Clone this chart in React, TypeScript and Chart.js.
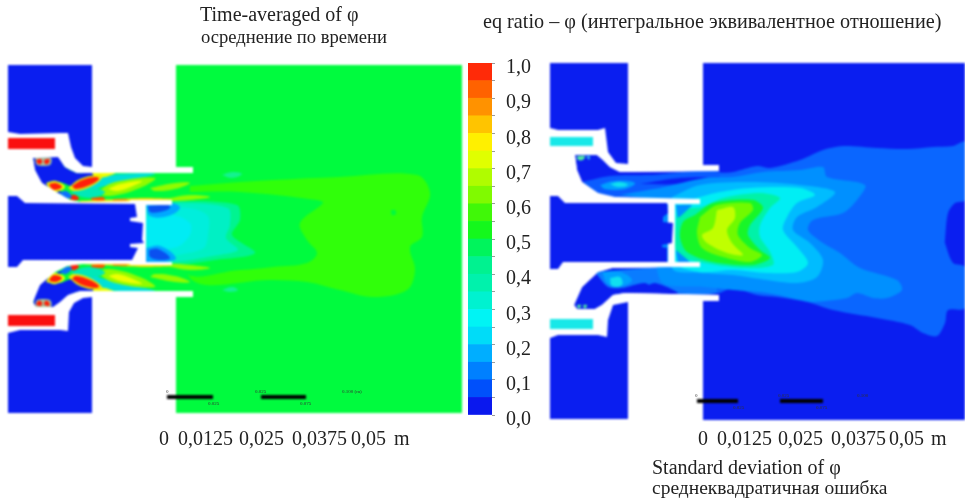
import React, { useEffect, useRef } from "react";
import { Chart, registerables } from "chart.js";

Chart.register(...registerables);

// ---------- colour scale ----------
const phiBandWidth = 0.05;
const phiBandColors = ["#0a18ee", "#0050fb", "#0080ff", "#00aeff", "#00dcf8", "#00f4f4", "#00f2d0", "#00f2ac", "#00f290", "#00f45c", "#14f81c", "#40f808", "#80fa00", "#b0fc00", "#e0ff00", "#fff000", "#ffc400", "#ff9200", "#ff6200", "#ff2a08"];
const phiTickStep = 0.05;

// ---------- left field (outline values in figure units) ----------
const leftBase = [176,65, 462,65, 462,413, 176,413, 176,297, 193,297, 193,291, 97,291, 80,291, 68,295, 60,302, 53,307, 36,307, 33,302, 40,285, 55,272, 67,266, 83,263, 143,263, 146,260, 146,205, 143,202, 80,202, 70,200, 58,193, 42,183, 35,170, 33,158, 58,157, 65,167, 77,173, 193,173, 193,167, 176,167];
const leftLime = [190,186, 240,182, 273,180, 340,177, 417,175, 430,193, 422,217, 422,237, 410,247, 415,270, 407,290, 373,297, 340,290, 307,282, 273,280, 190,278];
const leftLimeHole = [185,192, 240,192, 317,200, 323,203, 300,223, 307,240, 317,253, 307,263, 273,267, 240,270, 185,272];
const leftDot = [391,210, 395,210, 396,214, 392,215];
const leftMint = [146,205, 180,201, 237,205, 240,220, 232,235, 255,253, 215,260, 175,265, 146,262];
const leftTeal = [146,205, 180,203, 228,208, 230,225, 226,238, 238,250, 213,256, 175,262, 146,262];
const leftCyan = [146,207, 190,208, 208,216, 208,235, 204,248, 178,255, 146,260];
const leftCyanCore = [146,218, 173,215, 190,223, 190,235, 177,247, 150,247];
const leftTopHalo = [146,205, 172,203, 180,208, 168,216, 150,216];
const leftTopCore = [148,206, 168,205, 170,208, 160,212, 150,212];
const leftLowHalo = [146,248, 160,246, 176,258, 165,262, 146,262];
const leftLowCore = [149,250, 158,249, 170,258, 160,260, 150,257];
const leftSpotA = [222,175, 232,172, 242,174, 232,178];
const leftSpotB = [222,290, 232,287, 238,290, 230,292];

const upBlue = [33,158, 58,157, 65,167, 77,173, 100,173, 95,178, 72,186, 60,182, 50,186, 62,192, 70,197, 58,193, 42,183, 35,170];
const upCyan = [100,177, 120,174, 155,174, 130,180, 105,186, 85,192];
const upWallYellow = [92,173, 115,173, 105,177, 95,177];
const upLensHalo = [95,193, 115,182, 155,178, 140,188, 110,196];
const upLens = [108,189, 120,184, 142,181, 133,186, 117,191];
const upLens2 = [150,188, 175,183, 190,183, 175,189, 155,191];
const upLens3 = [165,199, 190,195, 210,197, 190,200, 165,201];
const upTeal = [70,193, 85,187, 105,192, 90,198];
const upRim = [80,201, 143,198, 172,199, 150,202, 80,203];
const upRedHalo = [68,188, 80,179, 99,175, 102,178, 90,187, 74,191];
const upRed1 = [72,186, 82,180, 96,177, 99,179, 90,185, 76,189];
const upRed2Halo = [46,183, 56,181, 65,187, 56,192, 50,189];
const upRed2 = [49,184, 56,183, 62,187, 55,190, 51,188];
const upRed3 = [68,196, 75,195, 79,199, 72,200];
const upRed4 = [91,198, 103,197, 105,200, 92,200];
const upRed5 = [113,199, 127,199, 127,201, 113,201];
const upPocket = [60,193, 66,191, 72,197, 66,198];
const upTipHalo = [35,158, 51,158, 50,165, 37,165];
const upTipA = [36,160, 41,159, 42,163, 38,164];
const upTipB = [44,160, 49,159, 49,163, 45,164];

const lowBlue = [33,307, 58,308, 65,298, 77,292, 100,292, 95,287, 72,279, 60,283, 50,279, 62,273, 70,268, 58,272, 42,282, 35,295];
const lowCyan = [100,288, 120,291, 155,291, 130,285, 105,279, 85,273];
const lowWallYellow = [92,292, 115,292, 105,288, 95,288];
const lowLensHalo = [95,272, 115,283, 155,287, 140,277, 110,269];
const lowLens = [108,276, 120,281, 142,284, 133,279, 117,274];
const lowLens2 = [150,277, 175,282, 190,282, 175,276, 155,274];
const lowLens3 = [165,266, 190,270, 210,268, 190,265, 165,264];
const lowTeal = [70,272, 85,278, 105,273, 90,267];
const lowRim = [80,264, 143,267, 172,266, 150,263, 80,262];
const lowRedHalo = [68,277, 80,286, 99,290, 102,287, 90,278, 74,274];
const lowRed1 = [72,279, 82,285, 96,288, 99,286, 90,280, 76,276];
const lowRed2Halo = [46,282, 56,284, 65,278, 56,273, 50,276];
const lowRed2 = [49,281, 56,282, 62,278, 55,275, 51,277];
const lowRed3 = [68,269, 75,270, 79,266, 72,265];
const lowRed4 = [91,267, 103,268, 105,265, 92,265];
const lowRed5 = [113,266, 127,266, 127,264, 113,264];
const lowPocket = [60,272, 66,274, 72,268, 66,267];
const lowTipHalo = [35,307, 51,307, 50,300, 37,300];
const lowTipA = [36,305, 41,306, 42,302, 38,301];
const lowTipB = [44,305, 49,306, 49,302, 45,301];

const leftMaskUp = [8,132, 60,133, 68,133, 71,147, 75,158, 83,166, 92,167, 92,65, 176,65, 176,167, 193,167, 193,173, 77,173, 65,167, 58,157, 33,158, 35,170, 42,183, 58,193, 70,200, 80,202, 143,201, 143,204, 25,203, 17,196, 8,196];
const leftMaskLip = [130,200, 172,200, 172,205, 146,205, 146,262, 172,262, 172,265, 130,265];
const leftMaskLow = [8,267, 17,267, 23,260, 143,261, 143,264, 83,264, 67,266, 55,272, 40,285, 33,302, 36,307, 53,307, 60,302, 68,295, 80,291, 193,291, 193,297, 176,297, 176,413, 92,413, 92,297, 80,298, 72,303, 68,330, 60,330, 20,330, 8,333];
const leftBlockUp = [8,65, 92,65, 92,167, 83,166, 75,158, 71,147, 68,133, 60,133, 20,134, 8,132];
const leftBlockMid = [8,196, 17,196, 25,203, 135,204, 137,217, 130,218, 130,221, 143,223, 142,240, 144,243, 130,244, 130,247, 138,248, 132,260, 23,260, 17,267, 8,267];
const leftBlockLow = [8,333, 20,330, 60,330, 68,331, 69,312, 74,303, 83,298, 92,297, 92,413, 8,413];
const leftInjUp = [8,138, 55,138, 55,149, 8,149];
const leftInjLow = [8,315, 55,315, 55,326, 8,326];

// ---------- right field ----------
const rightBase = [703,63, 965,63, 965,420, 703,420, 703,301, 719,301, 719,295, 625,293, 613,295, 602,305, 595,309, 577,309, 574,305, 582,287, 598,272, 612,268, 698,267, 675,262, 675,204, 700,199, 615,197, 598,193, 582,182, 577,170, 575,155, 597,155, 603,160, 610,167, 620,172, 719,171, 719,165, 703,165];
const rChanUp = [582,182, 610,176, 650,175, 720,172, 720,200, 668,199, 610,197, 598,193];
const rChanUpDark = [640,184, 680,178, 720,178, 680,184];
const rChanUpLight = [620,195, 660,188, 700,183, 720,186, 720,198, 660,199];
const rChanUpHalo = [600,185, 615,181, 635,183, 625,189, 605,189];
const rChanUpCore = [610,184, 620,182, 628,185, 618,187];
const rTipA = [577,156, 585,156, 583,160, 578,160];
const rTipB = [586,156, 590,156, 589,160];
const rChanLow = [595,272, 650,268, 698,268, 722,280, 718,293, 660,292, 645,283, 622,288, 608,287];
const rChanLowDark = [645,287, 655,283, 678,293, 658,293];
const rChanLowHalo = [602,272, 620,272, 632,280, 622,286, 608,284];
const rChanLowCore = [610,278, 620,277, 622,285, 612,286];
const rTipC = [577,305, 581,305, 580,308, 578,308];
const rTipD = [583,305, 587,305, 586,308, 584,308];
const rA = [720,173, 733,172, 757,166, 770,168, 800,160, 823,150, 843,146, 877,148, 907,149, 933,147, 953,146, 965,142, 965,200, 955,203, 948,213, 945,240, 945,243, 953,263, 965,267, 965,308, 948,310, 945,323, 937,336, 923,333, 910,325, 877,318, 833,310, 807,302, 777,297, 757,295, 733,288, 717,292];
const rB = [660,188, 705,178, 733,177, 763,172, 800,170, 823,167, 827,177, 865,185, 857,200, 843,213, 813,220, 808,230, 823,243, 840,253, 860,268, 897,280, 902,290, 887,298, 873,298, 857,293, 847,298, 813,302, 800,300, 767,293, 733,290, 705,287, 660,280];
const rC = [672,197, 700,185, 750,182, 800,185, 835,192, 817,207, 797,217, 793,230, 810,243, 823,260, 817,277, 797,283, 767,280, 733,275, 700,273, 672,268];
const rD = [675,205, 700,197, 720,192, 750,188, 800,188, 815,195, 797,203, 787,217, 783,230, 797,247, 808,263, 797,272, 767,273, 733,270, 700,272, 675,262];
const rE = [677,208, 690,208, 702,207, 723,198, 760,193, 780,198, 770,208, 760,225, 760,237, 770,252, 773,265, 743,268, 700,262, 677,253];
const rF = [695,215, 713,203, 753,200, 763,208, 750,225, 748,235, 760,250, 770,258, 753,265, 713,262, 687,252, 680,237, 683,222];
const rG = [700,217, 717,205, 750,203, 753,210, 740,223, 738,235, 750,248, 762,255, 750,262, 723,257, 702,248, 697,233];
const rH = [717,210, 733,207, 735,218, 727,230, 732,243, 743,255, 727,253, 707,243, 702,235, 713,228];
const rCornerUp = [676,205, 692,205, 678,218];
const rCornerLow = [676,250, 690,262, 678,262];
const rightMaskUp = [550,128, 558,130, 598,130, 605,128, 608,152, 616,163, 628,164, 628,63, 703,63, 703,165, 719,165, 719,171, 620,172, 610,167, 603,160, 597,155, 575,155, 577,170, 582,182, 598,193, 615,197, 700,199, 700,204, 668,204, 565,203, 558,196, 550,196];
const rightMaskLip = [668,199, 700,199, 700,204, 675,204, 675,262, 700,262, 700,267, 668,267];
const rightMaskLow = [550,269, 558,269, 563,262, 668,262, 668,267, 612,268, 598,272, 582,287, 574,305, 577,309, 595,309, 602,305, 613,295, 625,293, 719,295, 719,301, 703,301, 703,420, 628,420, 628,302, 613,305, 608,320, 607,337, 598,335, 558,335, 550,338];
const rightBlockUp = [550,63, 628,63, 628,164, 616,163, 608,152, 605,128, 598,130, 558,130, 550,128];
const rightBlockMid = [550,196, 558,196, 565,203, 667,203, 668,213, 663,217, 663,222, 673,223, 672,240, 672,243, 662,245, 662,247, 667,248, 667,262, 563,262, 558,269, 550,269];
const rightBlockLow = [550,338, 558,335, 598,335, 607,337, 608,320, 613,305, 628,302, 628,419, 550,419];
const rightInjUp = [550,137, 593,137, 593,146, 550,146];
const rightInjLow = [550,319, 593,319, 593,329, 550,329];

// ---------- scale bars ----------
const scaleBars = [[167,397, 213,397], [261,397, 306,397], [697,401, 738,401], [780,401, 823,401]];

// ---------- texts ----------
const titleLeft = ["Time-averaged of φ", "осреднение по времени"];
const titleRight = "eq ratio – φ (интегральное эквивалентное отношение)";
const axisTickLabels = ["0", "0,0125", "0,025", "0,0375", "0,05", "m"];
const axisTickLeftX = [159, 178, 239, 292, 351, 394];
const axisTickRightX = [698, 717, 778, 831, 889, 931];
const captionRight = ["Standard deviation of φ", "среднеквадратичная ошибка"];
const barLabelsLeft = [["0", 166, 393], ["0.025", 208, 405], ["0.025", 255, 393], ["0.075", 300, 405], ["0.100 (m)", 342, 393]] as const;
const barLabelsRight = [["0", 695, 397], ["0.025", 733, 409], ["0.025", 778, 397], ["0.075", 816, 409], ["0.100", 857, 397]] as const;

const GREEN = "#00fb3e", LIME = "#30ff0a", BLUE = "#0a1ef0", RED = "#ff1f0a", WHITE = "#ffffff";
const YEL = "#ecff00", MID = "#90fb00", ORG = "#ff9a00";

// array, colour, smoothing
const layers: [number[], string, number][] = [
  [leftBase, GREEN, 0],
  [leftLime, LIME, 0.35], [leftLimeHole, GREEN, 0.35], [leftDot, GREEN, 0.4],
  [leftMint, "#00f490", 0.3], [leftTeal, "#00f0c4", 0.3], [leftCyan, "#00eedc", 0.3], [leftCyanCore, "#00ecf4", 0.3],
  [leftTopHalo, "#00a8ff", 0.4], [leftTopCore, "#0a50f0", 0.4], [leftLowHalo, "#00a8ff", 0.4], [leftLowCore, "#0a50f0", 0.4],
  [leftSpotA, "#14f290", 0.4], [leftSpotB, "#14f290", 0.4],
  [upBlue, BLUE, 0.2], [upCyan, "#00e0d8", 0.4], [upWallYellow, YEL, 0.3], [upLensHalo, MID, 0.4], [upLens, YEL, 0.4], [upLens2, MID, 0.4], [upLens3, MID, 0.4], [upTeal, "#00e8b8", 0.4], [upRim, "#ffe000", 0.2],
  [upRedHalo, "#f0e800", 0.4], [upRed1, RED, 0.4], [upRed2Halo, YEL, 0.4], [upRed2, RED, 0.4], [upRed3, RED, 0.4], [upRed4, "#ff5000", 0.3], [upRed5, ORG, 0.3], [upPocket, "#0a70ff", 0.4], [upTipHalo, "#a0c8a0", 0.3], [upTipA, RED, 0.4], [upTipB, RED, 0.4],
  [lowBlue, BLUE, 0.2], [lowCyan, "#00e0d8", 0.4], [lowWallYellow, YEL, 0.3], [lowLensHalo, MID, 0.4], [lowLens, YEL, 0.4], [lowLens2, MID, 0.4], [lowLens3, MID, 0.4], [lowTeal, "#00e8b8", 0.4], [lowRim, "#ffe000", 0.2],
  [lowRedHalo, "#f0e800", 0.4], [lowRed1, RED, 0.4], [lowRed2Halo, YEL, 0.4], [lowRed2, RED, 0.4], [lowRed3, RED, 0.4], [lowRed4, "#ff5000", 0.3], [lowRed5, ORG, 0.3], [lowPocket, "#0a70ff", 0.4], [lowTipHalo, "#a0c8a0", 0.3], [lowTipA, RED, 0.4], [lowTipB, RED, 0.4],
  [leftMaskUp, WHITE, 0], [leftMaskLip, WHITE, 0], [leftMaskLow, WHITE, 0],
  [leftBlockUp, BLUE, 0], [leftBlockMid, BLUE, 0], [leftBlockLow, BLUE, 0], [leftInjUp, "#fa0f0f", 0], [leftInjLow, "#fa0f0f", 0],

  [rightBase, BLUE, 0],
  [rChanUp, "#0a5cff", 0.25], [rChanUpDark, BLUE, 0.3], [rChanUpLight, "#0090ff", 0.3], [rChanUpHalo, "#00a0ff", 0.4], [rChanUpCore, "#10e0f0", 0.4], [rTipA, "#50e8a0", 0.3], [rTipB, "#30b0f0", 0.3],
  [rChanLow, "#0a7cff", 0.25], [rChanLowDark, BLUE, 0.3], [rChanLowHalo, "#00a0ff", 0.4], [rChanLowCore, "#10e0f0", 0.4], [rTipC, "#50e8a0", 0.3], [rTipD, "#50e8a0", 0.3],
  [rA, "#0a66ff", 0.3], [rB, "#0090ff", 0.3], [rC, "#00bcff", 0.3], [rD, "#00eef4", 0.3], [rE, "#00f2a8", 0.3], [rF, "#18f628", 0.3], [rG, "#70fa00", 0.3], [rH, "#c0ff00", 0.3],
  [rCornerUp, "#0090ff", 0.1], [rCornerLow, "#0090ff", 0.1],
  [rightMaskUp, WHITE, 0], [rightMaskLip, WHITE, 0], [rightMaskLow, WHITE, 0],
  [rightBlockUp, BLUE, 0], [rightBlockMid, BLUE, 0], [rightBlockLow, BLUE, 0], [rightInjUp, "#18e8e8", 0], [rightInjLow, "#18e8e8", 0],
];

function points(flat: number[]) {
  const out: { x: number; y: number }[] = [];
  for (let i = 0; i < flat.length; i += 2) out.push({ x: flat[i], y: flat[i + 1] });
  return out;
}

const serif = "'Liberation Serif', serif";

function Label({ x, y, size, color, children }: any) {
  return (
    <div style={{ position: "absolute", left: x, top: y - size * 0.85, fontFamily: serif, fontSize: size, lineHeight: 1, whiteSpace: "pre", color: color || "#222", filter: "blur(0.3px)" }}>
      {children}
    </div>
  );
}

export default function App() {
  const fieldRef = useRef<HTMLCanvasElement>(null);
  const barRef = useRef<HTMLCanvasElement>(null);

  useEffect(() => {
    const polygons = layers.map(([flat, color, tension]) => ({
      data: points(flat.concat(flat.slice(0, 2))),
      showLine: true,
      fill: "shape" as const,
      backgroundColor: color,
      borderWidth: 0,
      pointRadius: 0,
      tension,
    }));
    const bars = scaleBars.map((flat) => ({
      data: points(flat),
      showLine: true,
      fill: false,
      borderColor: "#000",
      borderWidth: 4,
      pointRadius: 0,
    }));
    const field = new Chart(fieldRef.current!, {
      type: "scatter",
      data: { datasets: [...bars, ...polygons.slice().reverse()] as any },
      options: {
        animation: false,
        responsive: false,
        layout: { padding: 0 },
        plugins: { legend: { display: false }, tooltip: { enabled: false } },
        scales: {
          x: { type: "linear", min: 0, max: 965, display: false },
          y: { type: "linear", min: 0, max: 500, reverse: true, display: false },
        },
      },
    });

    const scale = new Chart(barRef.current!, {
      type: "bar",
      data: {
        labels: ["φ"],
        datasets: phiBandColors.map((c) => ({
          data: [phiBandWidth],
          backgroundColor: c,
          barPercentage: 1,
          categoryPercentage: 1,
          stack: "phi",
        })),
      },
      options: {
        animation: false,
        responsive: false,
        layout: { padding: { left: 8, top: 13, bottom: 20, right: 13 } },
        plugins: { legend: { display: false }, tooltip: { enabled: false } },
        scales: {
          x: { stacked: true, display: false },
          y: {
            stacked: true,
            position: "right",
            min: 0,
            max: 1,
            afterFit: (s: any) => { s.width = 40; s.paddingTop = 0; s.paddingBottom = 0; },
            border: { display: false },
            grid: { drawOnChartArea: false, drawTicks: true, tickLength: 3, color: "#9a9a9a" },
            ticks: {
              stepSize: phiTickStep,
              autoSkip: false,
              padding: 11,
              labelOffset: 5,
              color: "#222",
              font: { family: serif, size: 20 },
              callback: (v: any) => {
                const twentieth = Math.round(Number(v) * 20);
                return twentieth % 2 === 0 ? Number(v).toFixed(1).replace(".", ",") : "";
              },
            },
          },
        },
      },
    });
    return () => { field.destroy(); scale.destroy(); };
  }, []);

  return (
    <div style={{ position: "fixed", left: 0, top: 0, width: 965, height: 500, overflow: "hidden", background: "#fff" }}>
      <canvas ref={fieldRef} width={965} height={500} style={{ position: "absolute", left: 0, top: 0, width: 965, height: 500, filter: "blur(0.9px)" }} />
      <canvas ref={barRef} width={85} height={385} style={{ position: "absolute", left: 460, top: 50, width: 85, height: 385, filter: "blur(0.3px)" }} />
      <Label x={200} y={21} size={20}>{titleLeft[0]}</Label>
      <Label x={201} y={44} size={18.6}>{titleLeft[1]}</Label>
      <Label x={483} y={28} size={20.2}>{titleRight}</Label>
      {axisTickLabels.map((t, i) => (
        <Label key={"l" + i} x={axisTickLeftX[i]} y={445} size={20}>{t}</Label>
      ))}
      {axisTickLabels.map((t, i) => (
        <Label key={"r" + i} x={axisTickRightX[i]} y={445} size={20}>{t}</Label>
      ))}
      <Label x={652} y={474} size={20}>{captionRight[0]}</Label>
      <Label x={652} y={495} size={19.5}>{captionRight[1]}</Label>
      {[...barLabelsLeft, ...barLabelsRight].map(([t, x, y], i) => (
        <Label key={i} x={x} y={y} size={5} color="#333">{t}</Label>
      ))}
    </div>
  );
}
